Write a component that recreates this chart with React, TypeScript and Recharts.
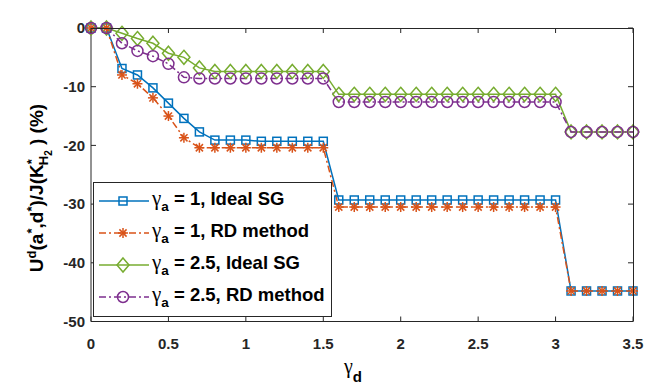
import React from "react";
import { LineChart, Line, XAxis, YAxis, Legend } from "recharts";

const gammaD = [
  0, 0.1, 0.2, 0.3, 0.4, 0.5, 0.6, 0.7, 0.8, 0.9, 1, 1.1, 1.2, 1.3, 1.4, 1.5, 1.6, 1.7,
  1.8, 1.9, 2, 2.1, 2.2, 2.3, 2.4, 2.5, 2.6, 2.7, 2.8, 2.9, 3, 3.1, 3.2, 3.3, 3.4, 3.5,
];

// gamma_a = 1, ideal SG
const idealA1 = [
  0, 0, -6.9, -8.0, -10.2, -12.8, -15.4, -17.7, -19.1, -19.1, -19.1, -19.3, -19.3, -19.3,
  -19.3, -19.3, -29.3, -29.3, -29.3, -29.3, -29.3, -29.3, -29.3, -29.3, -29.3, -29.3,
  -29.3, -29.3, -29.3, -29.3, -29.3, -44.8, -44.8, -44.8, -44.8, -44.8,
];
// gamma_a = 1, RD method
const rdA1 = [
  0, 0, -8.0, -9.5, -11.9, -15.0, -18.7, -20.4, -20.4, -20.4, -20.4, -20.4, -20.4, -20.4,
  -20.4, -20.4, -30.5, -30.5, -30.5, -30.5, -30.5, -30.5, -30.5, -30.5, -30.5, -30.5,
  -30.5, -30.5, -30.5, -30.5, -30.5, -44.8, -44.8, -44.8, -44.8, -44.8,
];
// gamma_a = 2.5, ideal SG
const idealA25 = [
  0, 0, -0.9, -1.8, -2.6, -4.3, -5.0, -6.8, -7.4, -7.4, -7.4, -7.4, -7.4, -7.4, -7.4, -7.4,
  -11.3, -11.3, -11.3, -11.3, -11.3, -11.3, -11.3, -11.3, -11.3, -11.3, -11.3, -11.3,
  -11.3, -11.3, -11.3, -17.7, -17.7, -17.7, -17.7, -17.7,
];
// gamma_a = 2.5, RD method
const rdA25 = [
  0, 0, -2.6, -3.9, -4.8, -6.1, -8.4, -8.6, -8.6, -8.6, -8.6, -8.6, -8.6, -8.6, -8.6, -8.6,
  -12.6, -12.6, -12.6, -12.6, -12.6, -12.6, -12.6, -12.6, -12.6, -12.6, -12.6, -12.6,
  -12.6, -12.6, -12.6, -17.7, -17.7, -17.7, -17.7, -17.7,
];

const xTicks = [0, 0.5, 1, 1.5, 2, 2.5, 3, 3.5];
const yTicks = [-50, -40, -30, -20, -10, 0];

const data = gammaD.map((x, i) => ({
  x,
  idealA1: idealA1[i],
  rdA1: rdA1[i],
  idealA25: idealA25[i],
  rdA25: rdA25[i],
}));

const AXIS = "#262626";
const FONT = "'Liberation Sans', Arial, sans-serif";
// plot box, fixed by the margins / axis sizes below
const W = 659;
const H = 389;
const LEFT = 91;
const TOP = 28;
const RIGHT = 633;
const BOTTOM = 321.5;

type Shape = "square" | "star" | "diamond" | "circle";

const series: {
  key: string;
  gamma: string;
  method: string;
  color: string;
  dash?: string;
  shape: Shape;
}[] = [
  { key: "idealA1", gamma: "1", method: "Ideal SG", color: "#0072BD", shape: "square" },
  { key: "rdA1", gamma: "1", method: "RD method", color: "#D95319", dash: "7 3 2 3", shape: "star" },
  { key: "idealA25", gamma: "2.5", method: "Ideal SG", color: "#77AC30", shape: "diamond" },
  { key: "rdA25", gamma: "2.5", method: "RD method", color: "#7E2F8E", dash: "7 3 2 3", shape: "circle" },
];

function Marker({ cx, cy, shape, color }: { cx: number; cy: number; shape: Shape; color: string }) {
  const common = { stroke: color, strokeWidth: 1.5, fill: "none" };
  if (shape === "square") return <rect x={cx - 4} y={cy - 4} width={8} height={8} {...common} />;
  if (shape === "circle") return <circle cx={cx} cy={cy} r={5.5} {...common} />;
  if (shape === "diamond")
    return (
      <polygon
        points={`${cx},${cy - 7} ${cx + 6},${cy} ${cx},${cy + 7} ${cx - 6},${cy}`}
        {...common}
      />
    );
  const r = 5;
  const d = 3.6;
  return (
    <g {...common}>
      <line x1={cx - r} y1={cy} x2={cx + r} y2={cy} />
      <line x1={cx} y1={cy - r} x2={cx} y2={cy + r} />
      <line x1={cx - d} y1={cy - d} x2={cx + d} y2={cy + d} />
      <line x1={cx - d} y1={cy + d} x2={cx + d} y2={cy - d} />
    </g>
  );
}

function LegendBox() {
  return (
    <svg width={239} height={135} style={{ display: "block" }}>
      <rect x={0.5} y={0.5} width={238} height={134} fill="#fff" stroke={AXIS} strokeWidth={1} />
      {series.map((s, i) => {
        const y = 19 + i * 32;
        return (
          <g key={s.key}>
            <line x1={6} y1={y} x2={56} y2={y} stroke={s.color} strokeWidth={1.5} strokeDasharray={s.dash} />
            <Marker cx={30} cy={y} shape={s.shape} color={s.color} />
            <text x={59} y={y + 4} fill="#000" fontFamily={FONT} fontWeight="bold" fontSize={18.5}>
              <tspan fontFamily="'Liberation Serif', serif" fontWeight="normal" fontSize={21}>γ</tspan>
              <tspan fontSize={13.5} dy={6}>a</tspan>
              <tspan dy={-6}>{` = ${s.gamma}, ${s.method}`}</tspan>
            </text>
          </g>
        );
      })}
    </svg>
  );
}

function YLabel() {
  return (
    <text
      transform="translate(43,188) rotate(-90)"
      textAnchor="middle"
      fill="#000"
      fontFamily={FONT}
      fontWeight="bold"
      fontSize={19}
    >
      U<tspan dy={-7} fontSize={13}>d</tspan>
      <tspan dy={7}>(a</tspan>
      <tspan dy={-7} fontSize={13}>*</tspan>
      <tspan dy={7}>,d</tspan>
      <tspan dy={-7} fontSize={13}>*</tspan>
      <tspan dy={7}>)/J(K</tspan>
      <tspan dy={-7} fontSize={13}>*</tspan>
      <tspan dx={-6} dy={12} fontSize={13}>H</tspan>
      <tspan dy={4} fontSize={10}>2</tspan>
      <tspan dy={-9}> ) (%)</tspan>
    </text>
  );
}

function XLabel() {
  return (
    <text x={344} y={373} fill="#000" fontFamily={FONT}>
      <tspan fontFamily="'Liberation Serif', serif" fontSize={20}>γ</tspan>
      <tspan fontSize={15} fontWeight="bold" dy={9}>d</tspan>
    </text>
  );
}

// top and right edges of the box with inward ticks (MATLAB "box on")
function BoxOverlay() {
  const sx = (v: number) => LEFT + (v / 3.5) * (RIGHT - LEFT);
  const sy = (v: number) => TOP + (-v / 50) * (BOTTOM - TOP);
  return (
    <svg
      width={W}
      height={H}
      style={{ position: "absolute", left: 0, top: 0, pointerEvents: "none" }}
    >
      <path d={`M${LEFT},${TOP + 0.5}H${RIGHT + 0.5}V${BOTTOM}`} fill="none" stroke={AXIS} strokeWidth={1} />
      {xTicks.map((t) => (
        <line key={`xt${t}`} x1={sx(t)} y1={TOP} x2={sx(t)} y2={TOP + 5} stroke={AXIS} />
      ))}
      {yTicks.map((t) => (
        <line key={`yt${t}`} x1={RIGHT - 5} y1={sy(t)} x2={RIGHT} y2={sy(t)} stroke={AXIS} />
      ))}
    </svg>
  );
}

const tickStyle = { fontSize: 15, fontWeight: "bold", fill: AXIS, fontFamily: FONT };

export default function App() {
  return (
    <div style={{ position: "absolute", left: 0, top: 0, width: W, height: H, background: "#fff" }}>
      <LineChart width={W} height={H} data={data} margin={{ top: TOP, right: W - RIGHT, left: 0, bottom: 0 }}>
        <XAxis
          dataKey="x"
          type="number"
          domain={[0, 3.5]}
          ticks={xTicks}
          height={H - BOTTOM}
          stroke={AXIS}
          tickSize={-5}
          tickMargin={21.5}
          tick={tickStyle}
          label={<XLabel />}
        />
        <YAxis
          type="number"
          domain={[-50, 0]}
          ticks={yTicks}
          width={LEFT}
          stroke={AXIS}
          tickSize={-5}
          tickMargin={11}
          tick={tickStyle}
          label={<YLabel />}
        />
        {series.map((s) => (
          <Line
            key={s.key}
            dataKey={s.key}
            stroke={s.color}
            strokeWidth={1.5}
            strokeDasharray={s.dash}
            isAnimationActive={false}
            activeDot={false}
            dot={(p: any) => (
              <Marker key={`${s.key}-${p.index}`} cx={p.cx} cy={p.cy} shape={s.shape} color={s.color} />
            )}
          />
        ))}
        <Legend
          layout="vertical"
          align="center"
          verticalAlign="middle"
          content={() => <LegendBox />}
          wrapperStyle={{ position: "absolute", left: 93, top: 182, width: 239, height: 135 }}
        />
      </LineChart>
      <BoxOverlay />
    </div>
  );
}
